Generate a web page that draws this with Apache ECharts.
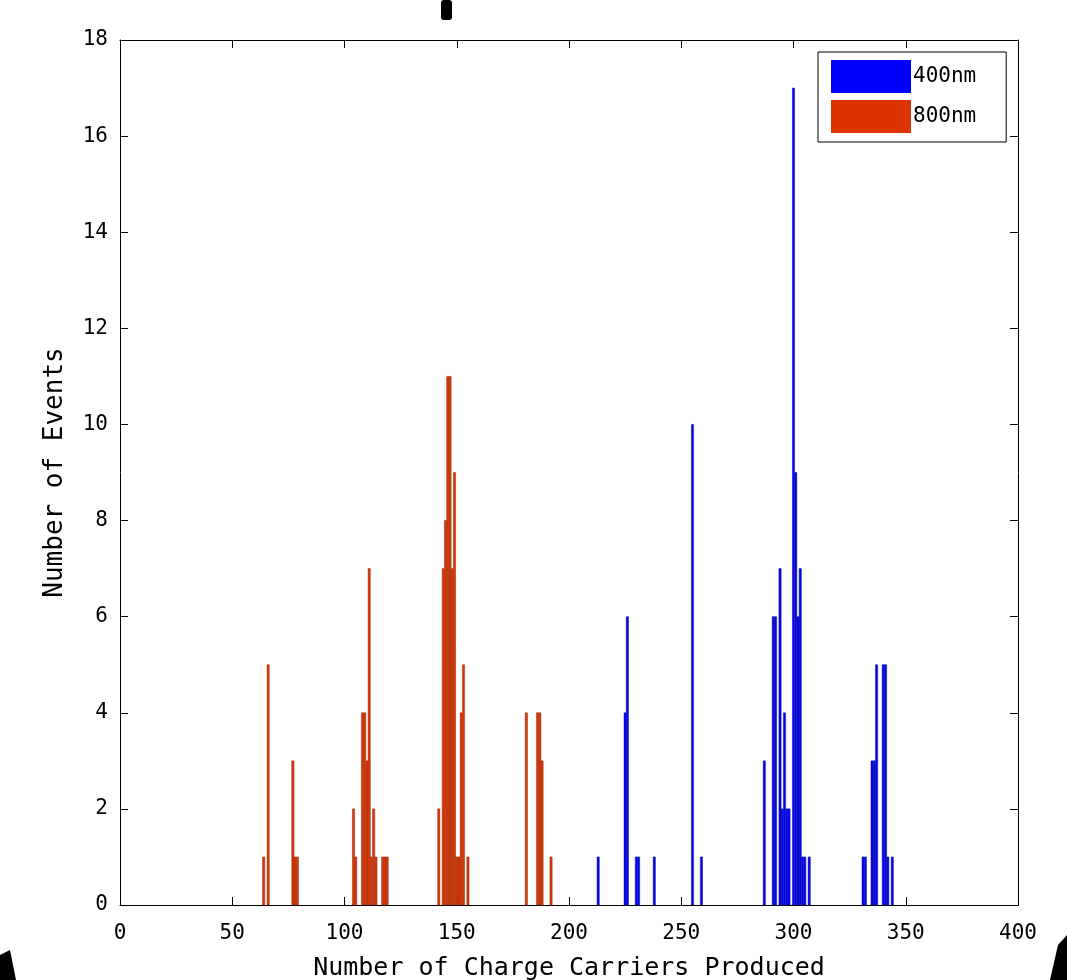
<!DOCTYPE html>
<html>
<head>
<meta charset="utf-8">
<script src="https://cdn.jsdelivr.net/npm/echarts@6/dist/echarts.min.js"></script>
<style>
html,body{margin:0;padding:0;background:#fff;}
#chart{width:1067px;height:980px;}
</style>
</head>
<body>
<div id="chart"></div>
<script>
// ---- data (histogram bins: number of charge carriers -> number of events) ----
const seriesNames = ['400nm', '800nm'];
const bins400 =   [213, 225, 226, 230, 231, 238, 255, 259, 287, 291, 292, 294, 295, 296, 297, 298, 300, 301, 302, 303, 304, 305, 307, 331, 332, 335, 336, 337, 340, 341, 342, 344];
const counts400 = [  1,   4,   6,   1,   1,   1,  10,   1,   3,   6,   6,   7,   2,   4,   2,   2,  17,   9,   6,   7,   1,   1,   1,   1,   1,   3,   3,   5,   5,   5,   1,   1];
const bins800 =   [ 64,  66,  77,  78,  79, 104, 105, 108, 109, 110, 111, 112, 113, 114, 117, 118, 119, 142, 144, 145, 146, 147, 148, 149, 150, 151, 152, 153, 155, 181, 186, 187, 188, 192];
const counts800 = [  1,   5,   3,   1,   1,   2,   1,   4,   4,   3,   7,   1,   2,   1,   1,   1,   1,   2,   7,   8,  11,  11,   7,   9,   1,   1,   4,   5,   1,   4,   4,   4,   3,   1];
const xTicks = [0, 50, 100, 150, 200, 250, 300, 350, 400];
const yTicks = [0, 2, 4, 6, 8, 10, 12, 14, 16, 18];
const xLabel = 'Number of Charge Carriers Produced';
const yLabel = 'Number of Events';

const FONT = 'DejaVu Sans Mono';
const BIN_W = 1;

function pairs(xs, ys){ return xs.map((x,i)=>[x, ys[i]]); }

function makeRender(fill, stroke){
  return function(params, api){
    const x = api.value(0), y = api.value(1);
    const p0 = api.coord([x - BIN_W/2, y]);
    const p1 = api.coord([x + BIN_W/2, 0]);
    return {
      type: 'rect',
      shape: {x: p0[0], y: p0[1], width: p1[0]-p0[0], height: p1[1]-p0[1]},
      style: {fill: fill, stroke: stroke, lineWidth: 0.5}
    };
  };
}

const chart = echarts.init(document.getElementById('chart'), null, {renderer:'canvas'});

function axisCommon(){
  return {
    axisLine: {show: true, onZero: false, lineStyle: {color: '#000', width: 1}},
    axisTick: {show: true, inside: true, length: 8, lineStyle: {color: '#000', width: 1}},
    splitLine: {show: false}
  };
}

chart.setOption({
  backgroundColor: '#ffffff',
  animation: false,
  grid: {left: 120, right: 49, top: 40, bottom: 75, show: false, containLabel: false, outerBoundsMode: 'none'},
  legend: {
    left: 818, top: 52,
    orient: 'vertical',
    data: [
      {name: seriesNames[0], icon: 'rect', itemStyle: {color: '#0000ff', borderWidth: 0}},
      {name: seriesNames[1], icon: 'rect', itemStyle: {color: '#dd3300', borderWidth: 0}}
    ],
    itemWidth: 80, itemHeight: 33, itemGap: 7,
    padding: [8, 30, 9, 13],
    backgroundColor: '#fff',
    borderColor: '#000', borderWidth: 1,
    textStyle: {fontFamily: FONT, fontSize: 21, color: '#000', padding: [0,0,0,-3]}
  },
  graphic: [
    {type: 'rect', left: 441, top: 0, shape: {width: 11, height: 20, r: 3}, style: {fill: '#000'}, silent: true},
    {type: 'polygon', shape: {points: [[0,955],[10,950],[16,980],[0,980]]}, style: {fill: '#000'}, silent: true},
    {type: 'polygon', shape: {points: [[1067,935],[1058,945],[1050,980],[1067,980]]}, style: {fill: '#000'}, silent: true}
  ],
  xAxis: [
    Object.assign(axisCommon(), {
      type: 'value', min: 0, max: 400, interval: 50, position: 'bottom',
      name: xLabel, nameLocation: 'middle', nameGap: 51,
      nameTextStyle: {fontFamily: FONT, fontSize: 25, color: '#000'},
      axisLabel: {show: true, fontFamily: FONT, fontSize: 21, color: '#000', margin: 18,
        formatter: v => xTicks.includes(v) ? String(v) : ''}
    }),
    Object.assign(axisCommon(), {
      type: 'value', min: 0, max: 400, interval: 50, position: 'top',
      axisLabel: {show: false}
    })
  ],
  yAxis: [
    Object.assign(axisCommon(), {
      type: 'value', min: 0, max: 18, interval: 2, position: 'left',
      name: yLabel, nameLocation: 'middle', nameGap: 52,
      nameTextStyle: {fontFamily: FONT, fontSize: 26, color: '#000'},
      axisLabel: {show: true, fontFamily: FONT, fontSize: 21, color: '#000', margin: 12,
        formatter: v => yTicks.includes(v) ? String(v) : ''}
    }),
    Object.assign(axisCommon(), {
      type: 'value', min: 0, max: 18, interval: 2, position: 'right',
      axisLabel: {show: false}
    })
  ],
  series: [
    {
      name: seriesNames[0], type: 'custom', xAxisIndex: 0, yAxisIndex: 0,
      itemStyle: {color: '#0000ff'},
      renderItem: makeRender('#0000ff', '#1a1a80'),
      encode: {x: 0, y: 1},
      data: pairs(bins400, counts400)
    },
    {
      name: seriesNames[1], type: 'custom', xAxisIndex: 0, yAxisIndex: 0,
      itemStyle: {color: '#dd3300'},
      renderItem: makeRender('#dd3300', '#8a3a22'),
      encode: {x: 0, y: 1},
      data: pairs(bins800, counts800)
    }
  ]
});
</script>
</body>
</html>
